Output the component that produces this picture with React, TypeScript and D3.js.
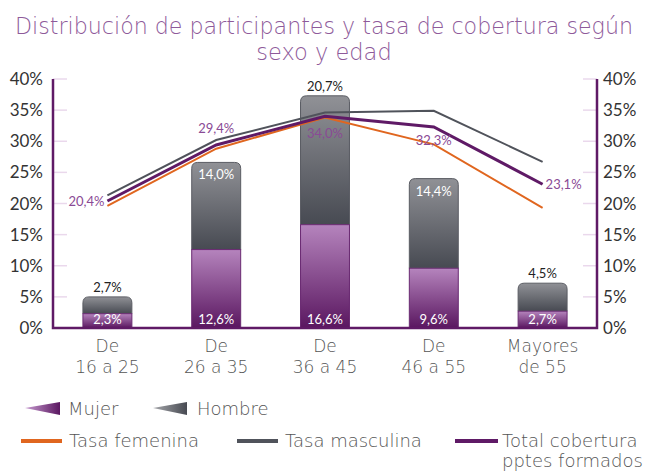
import * as d3 from 'd3';

const categories = [['De', '16 a 25'], ['De', '26 a 35'], ['De', '36 a 45'], ['De', '46 a 55'], ['Mayores', 'de 55']];
const mujer = [2.3, 12.6, 16.6, 9.6, 2.7];
const hombre = [2.7, 14.0, 20.7, 14.4, 4.5];
const tasaFemenina = [19.6, 28.8, 33.8, 29.5, 19.3];
const tasaMasculina = [21.3, 30.2, 34.6, 34.9, 26.7];
const totalCobertura = [20.4, 29.4, 34.0, 32.3, 23.1];
const yTicks = [0, 5, 10, 15, 20, 25, 30, 35, 40];

const W = 648;
const H = 472;
const margin = { top: 79, right: 51, bottom: 144, left: 53 };
const FONT = 'Lato, "Open Sans", sans-serif';
const THIN = '"DejaVu Sans ExtraLight", "DejaVu Sans", sans-serif';
const PURPLE = '#5f1a66';
const LABEL_PURPLE = '#8a4a95';
const ORANGE = '#e0661f';
const GRAY = '#50535b';

const fmt = (v: number) => v.toFixed(1).replace('.', ',') + '%';

export default function App() {
  const keys = categories.map((c) => c.join(' '));
  const x = d3
    .scaleBand()
    .domain(keys)
    .range([margin.left, W - margin.right])
    .paddingInner(0.55)
    .paddingOuter(0.275);
  const y = d3.scaleLinear().domain([0, 40]).range([H - margin.bottom, margin.top]);
  const cx = (i: number) => (x(keys[i]) ?? 0) + x.bandwidth() / 2;
  const bw = x.bandwidth();
  const r = 6;

  const line = d3
    .line<number>()
    .x((_, i) => cx(i))
    .y((d) => y(d));

  // rounded-top path for the hombre segment
  const topRounded = (x0: number, y0: number, w: number, y1: number) => {
    const p = d3.path();
    p.moveTo(x0, y1);
    p.lineTo(x0, y0 + r);
    p.quadraticCurveTo(x0, y0, x0 + r, y0);
    p.lineTo(x0 + w - r, y0);
    p.quadraticCurveTo(x0 + w, y0, x0 + w, y0 + r);
    p.lineTo(x0 + w, y1);
    p.closePath();
    return p.toString();
  };

  const x0 = margin.left;
  const x1 = W - margin.right;
  const yb = y(0);

  return (
    <svg width={W} height={H} style={{ position: 'absolute', left: 0, top: 0 }} fontFamily={FONT}>
      <defs>
        <linearGradient id="gH" x1="0" y1="0" x2="0" y2="1">
          <stop offset="0%" stopColor="#909196" />
          <stop offset="100%" stopColor="#474a52" />
        </linearGradient>
        <linearGradient id="gM" x1="0" y1="0" x2="0" y2="1">
          <stop offset="0%" stopColor="#b584bd" />
          <stop offset="100%" stopColor="#5a1760" />
        </linearGradient>
        <linearGradient id="lgM" x1="0" y1="0" x2="1" y2="0">
          <stop offset="0%" stopColor="#c79bd0" />
          <stop offset="100%" stopColor="#5a1760" />
        </linearGradient>
        <linearGradient id="lgH" x1="0" y1="0" x2="1" y2="0">
          <stop offset="0%" stopColor="#a5a6aa" />
          <stop offset="100%" stopColor="#474a52" />
        </linearGradient>
      </defs>

      <text fill="#8e5a9a" fontSize={22.5} fontFamily={THIN} fontWeight={200}>
        <tspan x={15} y={34} textLength={618} lengthAdjust="spacingAndGlyphs">
          Distribución de participantes y tasa de cobertura según
        </tspan>
        <tspan x={W / 2} y={60} textAnchor="middle">sexo y edad</tspan>
      </text>

      {/* tick marks + labels */}
      {yTicks.map((t) => (
        <g key={t}>
          <line x1={x0} x2={x0 + 14} y1={y(t)} y2={y(t)} stroke="#ead8ec" strokeWidth={1.5} />
          <line x1={x1 - 14} x2={x1} y1={y(t)} y2={y(t)} stroke="#ead8ec" strokeWidth={1.5} />
          <text x={43} y={y(t) + 6} textAnchor="end" fontSize={17} fill="#333">{t}%</text>
          <text x={x1 + 6} y={y(t) + 6} textAnchor="start" fontSize={17} fill="#333">{t}%</text>
        </g>
      ))}

      {/* bars */}
      {keys.map((k, i) => {
        const bx = x(k) ?? 0;
        const yM = y(mujer[i]);
        const yT = y(mujer[i] + hombre[i]);
        const inside = hombre[i] >= 13 && hombre[i] < 20;
        return (
          <g key={k}>
            <path d={topRounded(bx, yT, bw, yM)} fill="url(#gH)" stroke="#5a5c63" strokeWidth={1} />
            <rect x={bx} y={yM} width={bw} height={yb - yM} fill="url(#gM)" stroke="#6a2a72" strokeWidth={1} />
            <text x={bx + bw / 2} y={yb - 4} textAnchor="middle" fontSize={13} fill="#fff">{fmt(mujer[i])}</text>
            <text
              x={bx + bw / 2}
              y={inside ? yT + 17 : yT - 5}
              textAnchor="middle"
              fontSize={13}
              fill={inside ? '#fff' : '#222'}
            >
              {fmt(hombre[i])}
            </text>
          </g>
        );
      })}

      {/* lines */}
      <path d={line(tasaMasculina) ?? ''} fill="none" stroke={GRAY} strokeWidth={2} />
      <path d={line(tasaFemenina) ?? ''} fill="none" stroke={ORANGE} strokeWidth={2} />
      <path d={line(totalCobertura) ?? ''} fill="none" stroke={PURPLE} strokeWidth={3} />

      {/* line labels */}
      {totalCobertura.map((v, i) => {
        const pos: [number, number, 'start' | 'middle' | 'end'][] = [
          [-3, 5, 'end'],
          [0, -12, 'middle'],
          [0, 22, 'middle'],
          [0, 18, 'middle'],
          [3, 5, 'start'],
        ];
        const [dx, dy, anchor] = pos[i];
        return (
          <text key={i} x={cx(i) + dx} y={y(v) + dy} textAnchor={anchor} fontSize={13} fill={LABEL_PURPLE}>
            {fmt(v)}
          </text>
        );
      })}

      {/* axes */}
      <path d={`M${x0},${y(40)}V${yb}H${x1}V${y(40)}`} fill="none" stroke={PURPLE} strokeWidth={2.5} />

      {/* x labels */}
      {categories.map((c, i) => (
        <text key={i} textAnchor="middle" fontSize={17} fill="#555" fontFamily={THIN} fontWeight={200}>
          <tspan x={cx(i)} y={352}>{c[0]}</tspan>
          <tspan x={cx(i)} y={373}>{c[1]}</tspan>
        </text>
      ))}

      {/* legend */}
      <g fontSize={18} fill="#555" fontFamily={THIN} fontWeight={200}>
        <polygon points="25,408 60,402 60,415" fill="url(#lgM)" />
        <text x={68} y={415}>Mujer</text>
        <polygon points="153,408 187,402 187,415" fill="url(#lgH)" />
        <text x={197} y={415}>Hombre</text>

        <line x1={21} x2={62} y1={441} y2={441} stroke={ORANGE} strokeWidth={4} />
        <text x={69} y={447}>Tasa femenina</text>
        <line x1={237} x2={278} y1={441} y2={441} stroke={GRAY} strokeWidth={4} />
        <text x={285} y={447}>Tasa masculina</text>
        <line x1={455} x2={498} y1={441} y2={441} stroke={PURPLE} strokeWidth={4} />
        <text x={502} y={447}>Total cobertura</text>
        <text x={502} y={467}>pptes formados</text>
      </g>
    </svg>
  );
}
